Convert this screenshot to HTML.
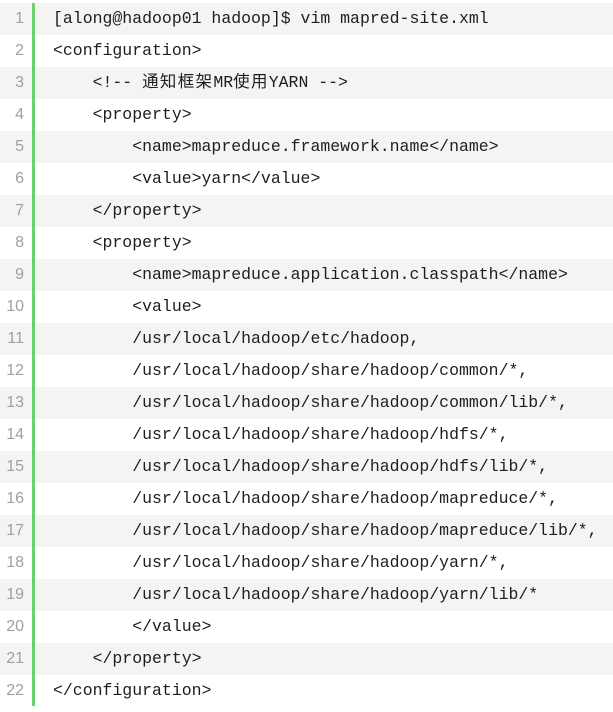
<!DOCTYPE html>
<html><head><meta charset="utf-8"><style>
html,body{margin:0;padding:0;background:#fff;width:613px;height:712px;overflow:hidden}
.wrap{position:absolute;top:3px;left:0;width:613px}
.r{position:relative;height:32px;line-height:32px;white-space:pre;font-family:"Liberation Mono","Noto Sans CJK SC",monospace;font-size:16.5px;color:#1e1e1e}
.r:nth-child(odd){background:#f4f4f4}
.n{position:absolute;left:0;width:24px;text-align:right;color:#a0a0a0;font-size:16px;font-family:"Liberation Sans",sans-serif}
.c{position:absolute;left:53px}
.cjk{letter-spacing:1.3px}
.bar{position:absolute;left:32px;top:3px;width:3px;height:703px;background:#6ecf6e}
</style></head><body>
<div class="wrap">
<div class="r"><span class="n">1</span><span class="c">[along@hadoop01 hadoop]$ vim mapred-site.xml</span></div>
<div class="r"><span class="n">2</span><span class="c">&lt;configuration&gt;</span></div>
<div class="r"><span class="n">3</span><span class="c">    &lt;!-- <span class="cjk">通知框架</span>MR<span class="cjk">使用</span>YARN --&gt;</span></div>
<div class="r"><span class="n">4</span><span class="c">    &lt;property&gt;</span></div>
<div class="r"><span class="n">5</span><span class="c">        &lt;name&gt;mapreduce.framework.name&lt;/name&gt;</span></div>
<div class="r"><span class="n">6</span><span class="c">        &lt;value&gt;yarn&lt;/value&gt;</span></div>
<div class="r"><span class="n">7</span><span class="c">    &lt;/property&gt;</span></div>
<div class="r"><span class="n">8</span><span class="c">    &lt;property&gt;</span></div>
<div class="r"><span class="n">9</span><span class="c">        &lt;name&gt;mapreduce.application.classpath&lt;/name&gt;</span></div>
<div class="r"><span class="n">10</span><span class="c">        &lt;value&gt;</span></div>
<div class="r"><span class="n">11</span><span class="c">        /usr/local/hadoop/etc/hadoop,</span></div>
<div class="r"><span class="n">12</span><span class="c">        /usr/local/hadoop/share/hadoop/common/*,</span></div>
<div class="r"><span class="n">13</span><span class="c">        /usr/local/hadoop/share/hadoop/common/lib/*,</span></div>
<div class="r"><span class="n">14</span><span class="c">        /usr/local/hadoop/share/hadoop/hdfs/*,</span></div>
<div class="r"><span class="n">15</span><span class="c">        /usr/local/hadoop/share/hadoop/hdfs/lib/*,</span></div>
<div class="r"><span class="n">16</span><span class="c">        /usr/local/hadoop/share/hadoop/mapreduce/*,</span></div>
<div class="r"><span class="n">17</span><span class="c">        /usr/local/hadoop/share/hadoop/mapreduce/lib/*,</span></div>
<div class="r"><span class="n">18</span><span class="c">        /usr/local/hadoop/share/hadoop/yarn/*,</span></div>
<div class="r"><span class="n">19</span><span class="c">        /usr/local/hadoop/share/hadoop/yarn/lib/*</span></div>
<div class="r"><span class="n">20</span><span class="c">        &lt;/value&gt;</span></div>
<div class="r"><span class="n">21</span><span class="c">    &lt;/property&gt;</span></div>
<div class="r"><span class="n">22</span><span class="c">&lt;/configuration&gt;</span></div>
</div>
<div class="bar"></div>
</body></html>
